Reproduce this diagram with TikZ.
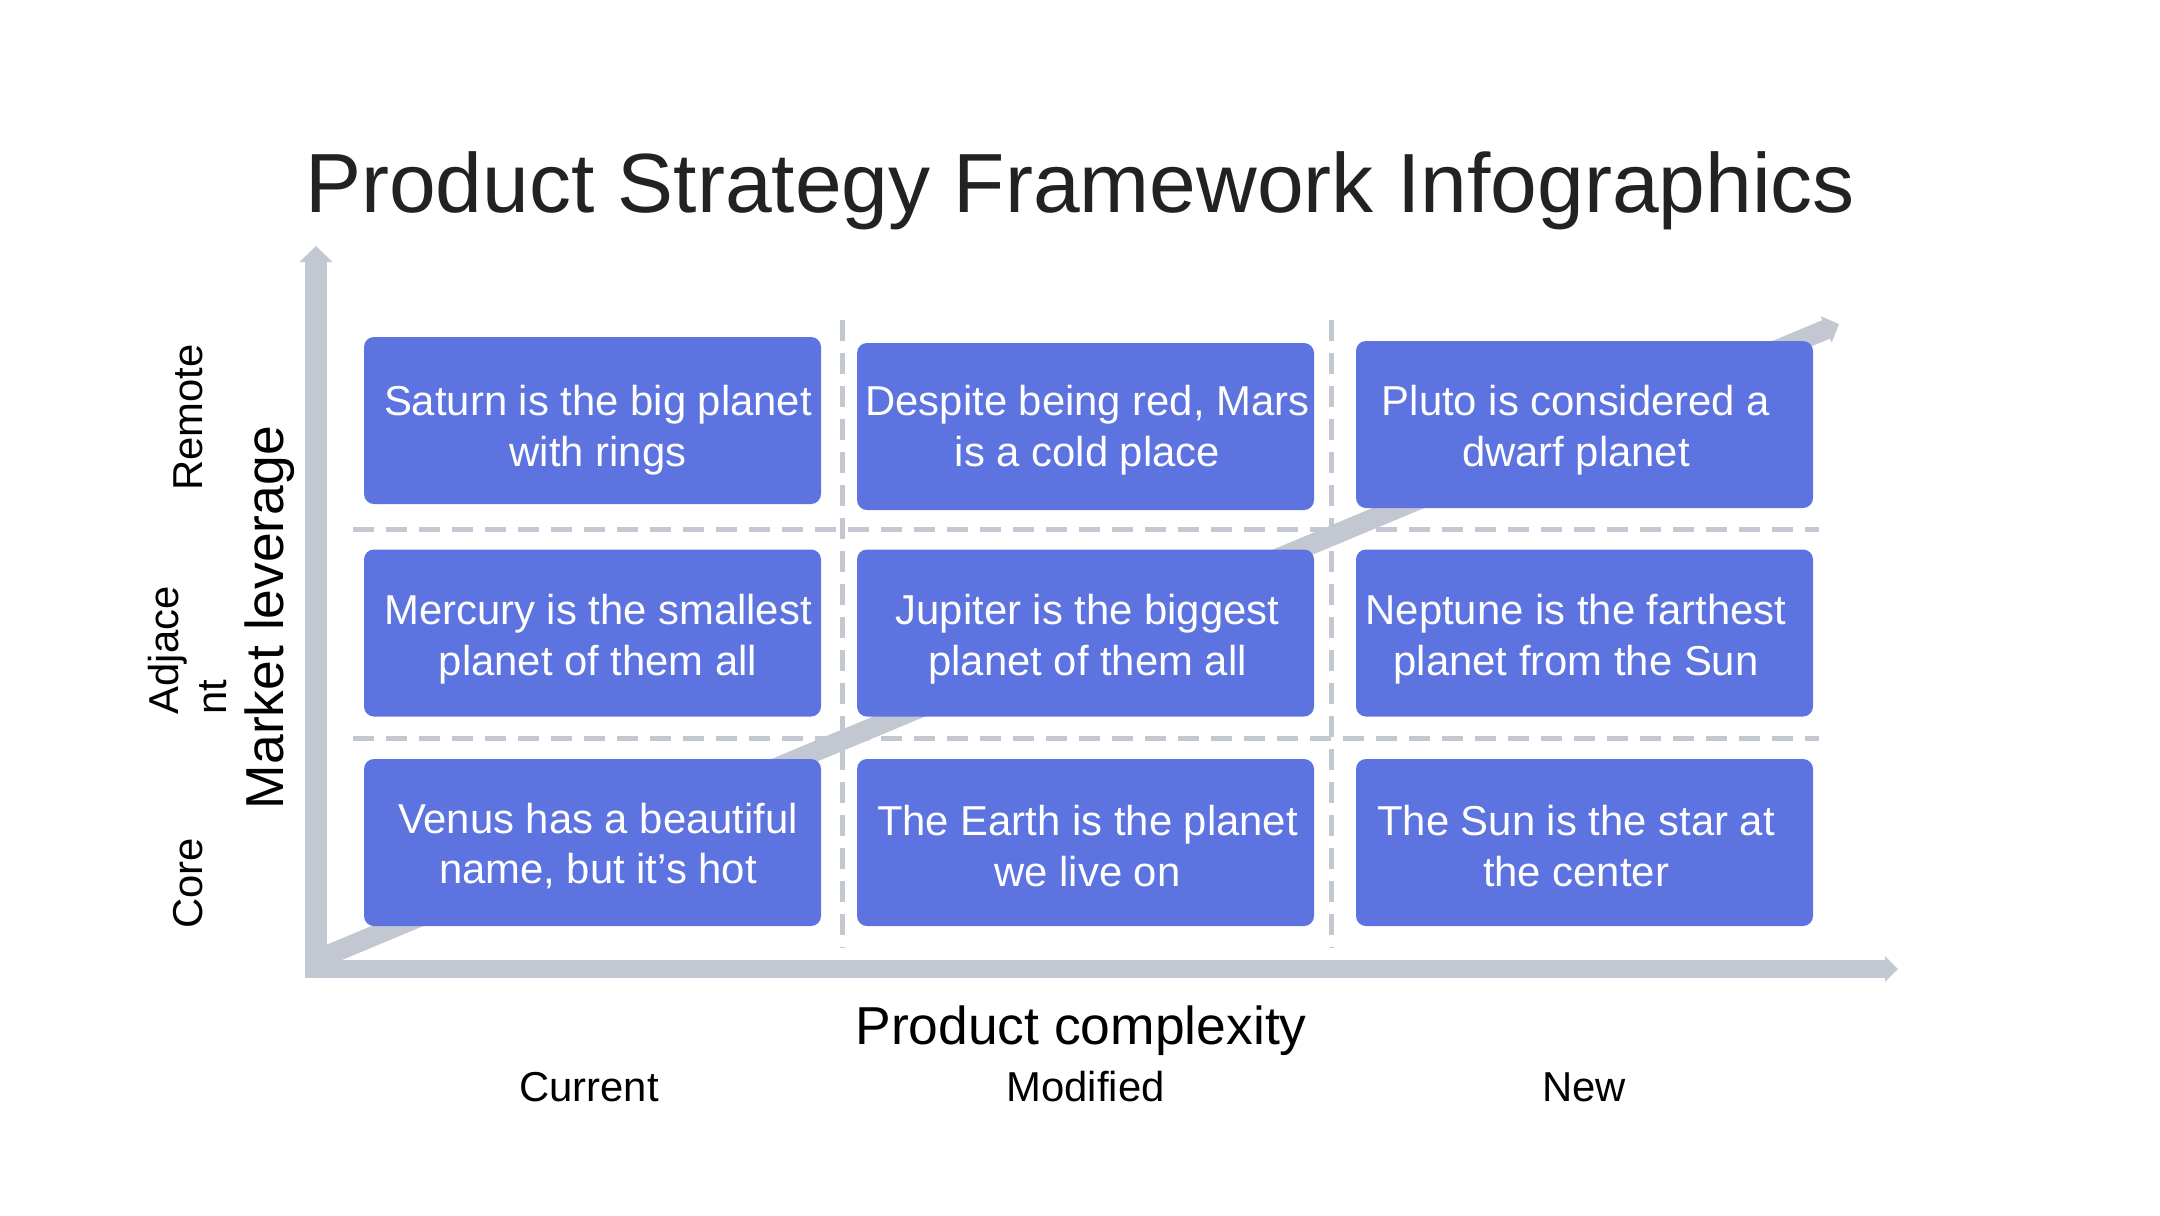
\documentclass[tikz,border=0pt]{standalone}
\usepackage{fontspec}
\setmainfont{Liberation Sans}
\usetikzlibrary{arrows.meta}
\definecolor{cellblue}{HTML}{5D73E0}
\definecolor{axisgray}{HTML}{C3C7D2}
\definecolor{titlegray}{HTML}{222222}

\begin{document}
\begin{tikzpicture}[
  x=1cm, y=-1cm,
  cell/.style={rectangle, fill=cellblue, rounded corners=0.1cm, minimum width=4.57cm, minimum height=1.67cm, inner sep=0pt},
  celltext/.style={inner sep=0pt, text=white, align=center, font=\fontsize{11.9}{14.5}\selectfont},
  gridline/.style={axisgray, line width=0.05cm, dash pattern=on 0.21cm off 0.12cm},
  axisline/.style={axisgray, line width=0.2cm},
  rowlabel/.style={rotate=90, anchor=base, font=\fontsize{11.9}{13.9}\selectfont},
  collabel/.style={anchor=base, font=\fontsize{11.9}{13.9}\selectfont},
  axislabel/.style={anchor=base, font=\fontsize{15.2}{18}\selectfont}
]
\useasboundingbox (0,0) rectangle (21.6,12.15);

% --- Title ---
\node[anchor=base, text=titlegray, font=\fontsize{23.9}{28}\selectfont] (title) at (10.80,2.12) {Product Strategy Framework Infographics};

% --- Grid lines ---
\coordinate (V1top) at (8.42,3.20);
\coordinate (V1bot) at (8.42,9.48);
\coordinate (V2top) at (13.31,3.20);
\coordinate (V2bot) at (13.31,9.48);
\coordinate (H1left) at (3.53,5.29);
\coordinate (H1right) at (18.19,5.29);
\coordinate (H2left) at (3.53,7.38);
\coordinate (H2right) at (18.19,7.38);

\draw[gridline] (V1top) -- (V1bot);
\draw[gridline] (V2top) -- (V2bot);
\draw[gridline] (H1left) -- (H1right);
\draw[gridline] (H2left) -- (H2right);

% --- Axes ---
\coordinate (Ystart) at (3.16,9.78);
\coordinate (Ytip) at (3.16,2.46);
\coordinate (Xstart) at (3.05,9.69);
\coordinate (Xtip) at (18.98,9.69);
\coordinate (Dstart) at (3.16,9.60);
\coordinate (Dtip) at (18.39,3.24);

\draw[axisline, -{Triangle[width=0.28cm, length=0.14cm]}] (Dstart) -- (Dtip);
\draw[axisline, line width=0.22cm, -{Triangle[width=0.32cm, length=0.16cm]}] (Ystart) -- (Ytip);
\draw[axisline, line width=0.18cm, -{Triangle[width=0.25cm, length=0.13cm]}] (Xstart) -- (Xtip);

% --- Boxes ---
\node[cell] (rem1) at (5.925,4.205) {};
\node[cell] (rem2) at (10.855,4.265) {};
\node[cell] (rem3) at (15.845,4.245) {};
\node[cell] (adj1) at (5.925,6.33) {};
\node[cell] (adj2) at (10.855,6.33) {};
\node[cell] (adj3) at (15.845,6.33) {};
\node[cell] (core1) at (5.925,8.425) {};
\node[cell] (core2) at (10.855,8.425) {};
\node[cell] (core3) at (15.845,8.425) {};

% --- Box texts ---
\node[celltext] (rem1text) at (5.98,4.30) {Saturn is the big planet\\with rings};
\node[celltext] (rem2text) at (10.875,4.30) {Despite being red, Mars\\is a cold place};
\node[celltext] (rem3text) at (15.76,4.30) {Pluto is considered a\\dwarf planet};
\node[celltext] (adj1text) at (5.98,6.395) {Mercury is the smallest\\planet of them all};
\node[celltext] (adj2text) at (10.875,6.395) {Jupiter is the biggest\\planet of them all};
\node[celltext] (adj3text) at (15.76,6.395) {Neptune is the farthest\\planet from the Sun};
\node[celltext] (core1text) at (5.98,8.46) {Venus has a beautiful\\name, but it’s hot};
\node[celltext] (core2text) at (10.875,8.46) {The Earth is the planet\\we live on};
\node[celltext] (core3text) at (15.76,8.46) {The Sun is the star at\\the center};

% --- Row labels ---
\node[rowlabel] (remote) at (2.02,4.175) {Remote};
\node[rotate=90, anchor=north west, align=left, inner sep=0pt, font=\fontsize{11.9}{13.9}\selectfont] (adjacent) at (1.47,7.15) {Adjace\\nt};
\node[rowlabel] (core) at (2.02,8.835) {Core};
\node[axislabel, rotate=90] (leverage) at (2.83,6.175) {Market leverage};

% --- Column labels ---
\node[axislabel] (complexity) at (10.81,10.44) {Product complexity};
\node[collabel] (current) at (5.89,11.01) {Current};
\node[collabel] (modified) at (10.855,11.01) {Modified};
\node[collabel] (new) at (15.84,11.01) {New};

\end{tikzpicture}
\end{document}
